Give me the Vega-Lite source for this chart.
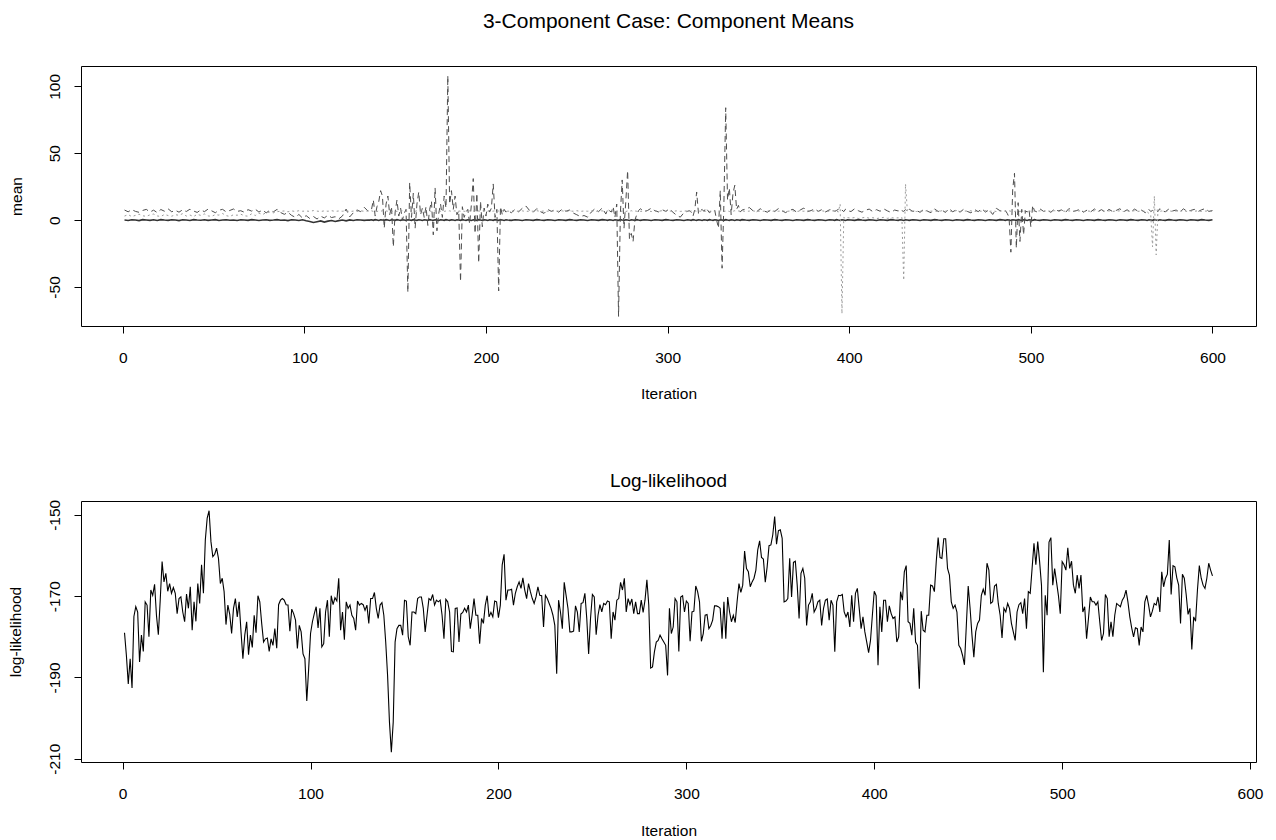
{
"$schema":"https://vega.github.io/schema/vega-lite/v6.json",
"background":"white",
"padding":{"left":7,"top":10,"right":10,"bottom":5},
"bounds":"flush",
"spacing":175,
"config":{"font":"Liberation Sans","view":{"stroke":"#000","strokeWidth":1},
"axis":{"domain":false,"grid":false,"tickColor":"#000","tickSize":7,"labelColor":"#000","labelFontSize":15.5,"titleColor":"#000","titleFontSize":15.5,"titleFontWeight":"normal","labelFlush":false,"labelOverlap":false},
"title":{"fontSize":19,"fontWeight":"normal","color":"#000","anchor":"middle"}},
"datasets":{
"top":[
{"i":1,"a":0,"b":7.5,"c":3},{"i":3,"a":-0.3,"b":6.2,"c":4.1},{"i":5,"a":0.2,"b":7.8,"c":2.6},{"i":7,"a":0,"b":6.5,"c":3.5},{"i":9,"a":-0.4,"b":5.8,"c":4.4},{"i":11,"a":0.3,"b":7.2,"c":3.2},{"i":13,"a":0.1,"b":8,"c":2.8},{"i":15,"a":-0.2,"b":6,"c":3.9},{"i":17,"a":0.2,"b":7.4,"c":4.5},{"i":19,"a":-0.3,"b":5.6,"c":3.1},
{"i":21,"a":0.3,"b":7.9,"c":2.7},{"i":23,"a":0,"b":6.6,"c":4.2},{"i":25,"a":-0.2,"b":8.4,"c":3.4},{"i":27,"a":0.2,"b":6.2,"c":2.9},{"i":29,"a":0,"b":7.3,"c":4},{"i":31,"a":-0.4,"b":5.9,"c":3.6},{"i":33,"a":0.2,"b":7.7,"c":4.8},{"i":35,"a":0.1,"b":6.4,"c":3},{"i":37,"a":-0.3,"b":8.1,"c":3.8},{"i":39,"a":0.3,"b":6.8,"c":2.6},
{"i":41,"a":0,"b":5.7,"c":4.3},{"i":43,"a":-0.1,"b":7.6,"c":3.5},{"i":45,"a":0.2,"b":6.3,"c":4.6},{"i":47,"a":-0.2,"b":8.2,"c":3.1},{"i":49,"a":0.1,"b":6.9,"c":2.8},{"i":51,"a":0.3,"b":5.5,"c":4.1},{"i":53,"a":-0.3,"b":7.4,"c":3.7},{"i":55,"a":0,"b":8,"c":4.9},{"i":57,"a":0.2,"b":6.1,"c":3.3},{"i":59,"a":-0.1,"b":7.2,"c":2.7},
{"i":61,"a":0.1,"b":8.3,"c":4},{"i":63,"a":-0.3,"b":6.5,"c":3.6},{"i":65,"a":0.2,"b":7,"c":4.4},{"i":67,"a":0,"b":5.8,"c":3.2},{"i":69,"a":-0.2,"b":7.8,"c":2.9},{"i":71,"a":0.3,"b":6.7,"c":4.7},{"i":73,"a":0,"b":8.1,"c":3.4},{"i":75,"a":-0.3,"b":6,"c":5.2},{"i":77,"a":0.1,"b":7.5,"c":4.1},{"i":79,"a":0.2,"b":5.4,"c":5.6},
{"i":81,"a":-0.2,"b":7.3,"c":6},{"i":83,"a":0,"b":6.2,"c":5.4},{"i":85,"a":0.3,"b":8,"c":6.3},{"i":87,"a":-0.1,"b":5.6,"c":6.6},{"i":89,"a":0.1,"b":4.3,"c":6.8},{"i":91,"a":-0.4,"b":5.8,"c":6.2},{"i":93,"a":0.2,"b":3.5,"c":6.9},{"i":95,"a":0,"b":2.1,"c":6.4},{"i":97,"a":-0.3,"b":4.2,"c":7},{"i":99,"a":0.2,"b":1.5,"c":6.6},
{"i":101,"a":-0.5,"b":3.3,"c":6.8},{"i":103,"a":-1,"b":1.2,"c":6.5},{"i":105,"a":-1.8,"b":2.7,"c":7.1},{"i":107,"a":-1.2,"b":0.8,"c":6.7},{"i":109,"a":-0.6,"b":2.9,"c":6.4},{"i":111,"a":-1.5,"b":1.6,"c":6.9},{"i":113,"a":-0.8,"b":3.6,"c":6.6},{"i":115,"a":-0.3,"b":1.9,"c":7},{"i":117,"a":-1.1,"b":2.5,"c":6.5},{"i":119,"a":-0.4,"b":0.9,"c":6.8},
{"i":121,"a":0,"b":3.1,"c":6.6},{"i":123,"a":-0.6,"b":8.2,"c":6.9},{"i":125,"a":0.1,"b":2.4,"c":6.4},{"i":127,"a":-0.3,"b":5.5,"c":6.7},{"i":129,"a":0.2,"b":7.6,"c":6.5},{"i":131,"a":0,"b":6.3,"c":6.9},{"i":133,"a":-0.2,"b":9.5,"c":6.6},{"i":135,"a":0.1,"b":6.8,"c":6.8},
{"i":136,"a":0,"b":7,"c":6.6},{"i":137,"a":0.2,"b":8,"c":6.9},{"i":138,"a":-0.2,"b":15,"c":6.5},{"i":139,"a":0.3,"b":3,"c":6.8},{"i":140,"a":0,"b":10,"c":6.4},{"i":141,"a":-0.3,"b":14,"c":6.9},{"i":142,"a":0.2,"b":22,"c":6.6},{"i":143,"a":0,"b":18,"c":7},{"i":144,"a":-0.2,"b":-6,"c":6.5},{"i":145,"a":0.3,"b":12,"c":6.8},
{"i":146,"a":0,"b":18,"c":6.6},{"i":147,"a":-0.3,"b":4,"c":6.9},{"i":148,"a":0.2,"b":10,"c":6.5},{"i":149,"a":0,"b":-20,"c":6.7},{"i":150,"a":-0.2,"b":6,"c":6.9},{"i":151,"a":0.3,"b":15,"c":6.4},{"i":152,"a":0,"b":3,"c":6.8},{"i":153,"a":-0.2,"b":9,"c":6.6},{"i":154,"a":0.2,"b":0,"c":7},{"i":155,"a":0,"b":5,"c":6.5},
{"i":156,"a":-0.3,"b":8,"c":6.8},{"i":157,"a":0.2,"b":-54,"c":6.6},{"i":158,"a":0,"b":28,"c":6.9},{"i":159,"a":-0.2,"b":2,"c":6.5},{"i":160,"a":0.3,"b":20,"c":6.8},{"i":161,"a":0,"b":-6,"c":6.6},{"i":162,"a":-0.2,"b":12,"c":6.9},{"i":163,"a":0.2,"b":21,"c":6.4},{"i":164,"a":0,"b":4,"c":6.7},{"i":165,"a":-0.3,"b":9,"c":7},
{"i":166,"a":0.2,"b":2,"c":6.5},{"i":167,"a":0,"b":10,"c":6.8},{"i":168,"a":-0.2,"b":-4,"c":6.6},{"i":169,"a":0.3,"b":8,"c":6.9},{"i":170,"a":0,"b":14,"c":6.5},{"i":171,"a":-0.2,"b":-11,"c":6.7},{"i":172,"a":0.2,"b":24,"c":6.9},{"i":173,"a":0,"b":-8,"c":6.4},{"i":174,"a":-0.3,"b":5,"c":6.8},{"i":175,"a":0.2,"b":12,"c":6.6},
{"i":176,"a":0,"b":2,"c":7},{"i":177,"a":-0.2,"b":18,"c":6.5},{"i":178,"a":0.3,"b":9,"c":6.8},{"i":179,"a":0,"b":108,"c":6.6},{"i":180,"a":-0.2,"b":12,"c":6.9},{"i":181,"a":0.2,"b":22,"c":6.5},{"i":182,"a":0,"b":8,"c":6.7},{"i":183,"a":-0.3,"b":18,"c":6.9},{"i":184,"a":0.2,"b":4,"c":6.4},{"i":185,"a":0,"b":7,"c":6.8},
{"i":186,"a":-0.2,"b":-46,"c":6.6},{"i":187,"a":0.3,"b":10,"c":7},{"i":188,"a":0,"b":2,"c":6.5},{"i":189,"a":-0.2,"b":6,"c":6.8},{"i":190,"a":0.2,"b":8,"c":6.6},{"i":191,"a":0,"b":-3,"c":6.9},{"i":192,"a":-0.3,"b":12,"c":6.5},{"i":193,"a":0.2,"b":31,"c":6.7},{"i":194,"a":0,"b":-10,"c":6.9},{"i":195,"a":-0.2,"b":20,"c":6.4},
{"i":196,"a":0.3,"b":-32,"c":6.8},{"i":197,"a":0,"b":14,"c":6.6},{"i":198,"a":-0.2,"b":-5,"c":7},{"i":199,"a":0.2,"b":9,"c":6.5},{"i":200,"a":0,"b":3,"c":6.8},{"i":201,"a":-0.3,"b":12,"c":6.6},{"i":202,"a":0.2,"b":6,"c":6.9},{"i":203,"a":0,"b":9,"c":6.5},{"i":204,"a":-0.2,"b":27,"c":6.7},{"i":205,"a":0.3,"b":2,"c":6.9},
{"i":206,"a":0,"b":8,"c":6.4},{"i":207,"a":-0.2,"b":-53,"c":6.8},{"i":208,"a":0.2,"b":10,"c":6.6},{"i":209,"a":0,"b":4,"c":7},{"i":210,"a":-0.3,"b":8,"c":6.5},{"i":211,"a":0.2,"b":6,"c":6.8},{"i":212,"a":0,"b":7,"c":6.6},
{"i":214,"a":-0.2,"b":5.5,"c":6.9},{"i":216,"a":0.2,"b":8,"c":6.5},{"i":218,"a":0,"b":6.2,"c":6.7},{"i":220,"a":-0.3,"b":8.8,"c":6.9},{"i":222,"a":0.2,"b":10.5,"c":6.4},{"i":224,"a":0,"b":7.2,"c":6.8},{"i":226,"a":-0.2,"b":5.8,"c":6.6},{"i":228,"a":0.3,"b":8.6,"c":7},{"i":230,"a":0,"b":6.3,"c":6.5},{"i":232,"a":-0.2,"b":5,"c":6.8},
{"i":234,"a":0.2,"b":8,"c":6.6},{"i":236,"a":0,"b":6.5,"c":6.9},{"i":238,"a":-0.3,"b":7.8,"c":6.5},{"i":240,"a":0.2,"b":5.9,"c":6.7},{"i":242,"a":0,"b":8.3,"c":6.9},{"i":244,"a":-0.2,"b":6.6,"c":6.4},{"i":246,"a":0.3,"b":7.5,"c":6.8},{"i":248,"a":0,"b":5.3,"c":6.6},{"i":250,"a":-0.2,"b":4,"c":7},{"i":252,"a":0.2,"b":2.6,"c":6.5},
{"i":254,"a":0,"b":3.4,"c":6.8},{"i":256,"a":-0.3,"b":2.2,"c":6.6},{"i":258,"a":0.2,"b":6,"c":6.9},{"i":260,"a":0,"b":8.5,"c":6.5},{"i":262,"a":-0.2,"b":6.3,"c":6.7},{"i":264,"a":0.3,"b":9,"c":6.9},{"i":266,"a":0,"b":4.5,"c":6.4},
{"i":267,"a":-0.2,"b":8,"c":6.8},{"i":268,"a":0.2,"b":7,"c":6.6},{"i":269,"a":0,"b":6,"c":7},{"i":270,"a":-0.3,"b":10,"c":6.5},{"i":271,"a":0.2,"b":2,"c":6.8},{"i":272,"a":0,"b":12,"c":6.6},{"i":273,"a":-0.2,"b":-72,"c":6.9},{"i":274,"a":0.3,"b":5,"c":6.5},{"i":275,"a":0,"b":30,"c":6.7},{"i":276,"a":-0.2,"b":-6,"c":6.9},
{"i":277,"a":0.2,"b":14,"c":6.4},{"i":278,"a":0,"b":37,"c":6.8},{"i":279,"a":-0.3,"b":-14,"c":6.6},{"i":280,"a":0.2,"b":-10,"c":7},{"i":281,"a":0,"b":-16,"c":6.5},{"i":282,"a":-0.2,"b":0,"c":6.8},{"i":283,"a":0.3,"b":4,"c":6.6},{"i":284,"a":0,"b":7,"c":6.9},{"i":285,"a":-0.2,"b":8.5,"c":6.5},
{"i":287,"a":0.2,"b":6.4,"c":6.7},{"i":289,"a":0,"b":7.2,"c":6.9},{"i":291,"a":-0.3,"b":8.9,"c":6.4},{"i":293,"a":0.2,"b":7,"c":6.8},{"i":295,"a":0,"b":6.1,"c":6.6},{"i":297,"a":-0.2,"b":7.8,"c":7},{"i":299,"a":0.3,"b":6.5,"c":6.5},{"i":301,"a":0,"b":8.4,"c":6.8},{"i":303,"a":-0.2,"b":5.8,"c":6.6},{"i":305,"a":0.2,"b":3.5,"c":6.9},
{"i":307,"a":0,"b":2.2,"c":6.5},{"i":309,"a":-0.3,"b":5.5,"c":6.7},
{"i":311,"a":0.2,"b":6.6,"c":6.9},{"i":312,"a":0,"b":7,"c":6.4},{"i":313,"a":-0.2,"b":6,"c":6.8},{"i":314,"a":0.3,"b":3,"c":6.6},{"i":315,"a":0,"b":8,"c":7},{"i":316,"a":-0.2,"b":21,"c":6.5},{"i":317,"a":0.2,"b":5,"c":6.8},{"i":318,"a":0,"b":7,"c":6.6},{"i":319,"a":-0.3,"b":8,"c":6.9},{"i":320,"a":0.2,"b":6.5,"c":6.5},
{"i":321,"a":0,"b":9,"c":6.7},{"i":322,"a":-0.2,"b":7.5,"c":6.9},{"i":323,"a":0.3,"b":5.5,"c":6.4},{"i":324,"a":0,"b":6.5,"c":6.8},{"i":325,"a":-0.2,"b":8,"c":6.6},{"i":326,"a":0.2,"b":7,"c":7},{"i":327,"a":0,"b":0,"c":6.5},{"i":328,"a":-0.3,"b":-6,"c":6.8},{"i":329,"a":0.2,"b":22,"c":6.6},{"i":330,"a":0,"b":-36,"c":6.9},
{"i":331,"a":-0.2,"b":12,"c":6.5},{"i":332,"a":0.3,"b":84,"c":6.7},{"i":333,"a":0,"b":15,"c":6.9},{"i":334,"a":-0.2,"b":24,"c":6.4},{"i":335,"a":0.2,"b":4,"c":6.8},{"i":336,"a":0,"b":20,"c":6.6},{"i":337,"a":-0.3,"b":26,"c":7},{"i":338,"a":0.2,"b":8,"c":6.5},{"i":339,"a":0,"b":11,"c":6.8},{"i":340,"a":-0.2,"b":6,"c":6.6},
{"i":341,"a":0.3,"b":7.5,"c":6.9},{"i":343,"a":0,"b":8.2,"c":6.5},{"i":345,"a":-0.2,"b":9.4,"c":6.7},{"i":347,"a":0.2,"b":7,"c":6.9},{"i":349,"a":0,"b":6.2,"c":6.4},{"i":351,"a":-0.3,"b":8.5,"c":6.8},{"i":353,"a":0.2,"b":6.8,"c":6.6},{"i":355,"a":0,"b":5.9,"c":7},{"i":357,"a":-0.2,"b":7.7,"c":6.5},{"i":359,"a":0.3,"b":6.4,"c":6.8},
{"i":361,"a":0,"b":8.6,"c":6.6},{"i":363,"a":-0.2,"b":6.9,"c":6.9},{"i":365,"a":0.2,"b":5.6,"c":6.5},{"i":367,"a":0,"b":7.3,"c":6.7},{"i":369,"a":-0.3,"b":8,"c":6.9},{"i":371,"a":0.2,"b":6,"c":6.4},{"i":373,"a":0,"b":7.5,"c":6.8},{"i":375,"a":-0.2,"b":9,"c":6.6},{"i":377,"a":0.3,"b":6.3,"c":7},{"i":379,"a":0,"b":7.1,"c":6.5},
{"i":381,"a":-0.2,"b":8.4,"c":6.8},{"i":383,"a":0.2,"b":6.5,"c":6.6},{"i":385,"a":0,"b":7.9,"c":6.9},{"i":387,"a":-0.3,"b":6.1,"c":6.5},{"i":389,"a":0.2,"b":7.6,"c":6.7},{"i":391,"a":0,"b":8.2,"c":6.9},
{"i":392,"a":-0.2,"b":6.5,"c":6.4},{"i":393,"a":0.3,"b":7.2,"c":6.8},{"i":394,"a":0,"b":8,"c":6},{"i":395,"a":-0.2,"b":6.8,"c":12},{"i":396,"a":0.2,"b":7.5,"c":-70},{"i":397,"a":0,"b":6.3,"c":2},{"i":398,"a":-0.3,"b":8.2,"c":1.2},{"i":399,"a":0.2,"b":7,"c":1.8},
{"i":401,"a":0,"b":6.4,"c":1.5},{"i":403,"a":-0.2,"b":8.5,"c":1.9},{"i":405,"a":0.3,"b":7,"c":1.2},{"i":407,"a":0,"b":5.9,"c":1.7},{"i":409,"a":-0.2,"b":7.4,"c":2.1},{"i":411,"a":0.2,"b":8.2,"c":1.4},{"i":413,"a":0,"b":6.3,"c":1.8},{"i":415,"a":-0.3,"b":7.8,"c":1.1},{"i":417,"a":0.2,"b":6.6,"c":1.6},{"i":419,"a":0,"b":8.4,"c":2},
{"i":421,"a":-0.2,"b":6.9,"c":1.3},{"i":423,"a":0.3,"b":5.7,"c":1.8},{"i":425,"a":0,"b":7.5,"c":1.5},{"i":427,"a":-0.2,"b":6.8,"c":1.7},{"i":428,"a":0.2,"b":8,"c":1.4},{"i":429,"a":0,"b":7,"c":2},{"i":430,"a":-0.3,"b":6.5,"c":-45},{"i":431,"a":0.2,"b":7.8,"c":27},{"i":432,"a":0,"b":6.4,"c":7},{"i":433,"a":-0.2,"b":8.2,"c":6.5},
{"i":435,"a":0.2,"b":6.5,"c":6.8},{"i":437,"a":0,"b":7.2,"c":6.4},{"i":439,"a":-0.3,"b":5.8,"c":6.9},{"i":441,"a":0.2,"b":8,"c":6.5},{"i":443,"a":0,"b":6.7,"c":7.2},{"i":445,"a":-0.2,"b":5.5,"c":6.6},{"i":447,"a":0.3,"b":8.3,"c":6.9},{"i":449,"a":0,"b":6.4,"c":6.3},{"i":451,"a":-0.2,"b":7.5,"c":7},{"i":453,"a":0.2,"b":5.7,"c":6.6},
{"i":455,"a":0,"b":8.6,"c":6.8},{"i":457,"a":-0.3,"b":6.2,"c":6.4},{"i":459,"a":0.2,"b":7.7,"c":7.1},{"i":461,"a":0,"b":5.9,"c":6.5},{"i":463,"a":-0.2,"b":8.1,"c":6.9},{"i":465,"a":0.3,"b":6.5,"c":6.6},{"i":467,"a":0,"b":5.4,"c":7},{"i":469,"a":-0.2,"b":7.9,"c":6.4},{"i":471,"a":0.2,"b":6.3,"c":6.8},{"i":473,"a":0,"b":8.5,"c":6.6},
{"i":475,"a":-0.3,"b":6,"c":7.1},{"i":477,"a":0.2,"b":7.6,"c":6.5},{"i":479,"a":0,"b":4.2,"c":6.8},{"i":481,"a":-0.2,"b":8.8,"c":6.4},{"i":483,"a":0.3,"b":7,"c":6.9},
{"i":485,"a":0,"b":6.5,"c":6.6},{"i":486,"a":-0.2,"b":7,"c":6.8},{"i":487,"a":0.2,"b":5,"c":6.5},{"i":488,"a":0,"b":2,"c":6.9},{"i":489,"a":-0.3,"b":-24,"c":6.6},{"i":490,"a":0.2,"b":23,"c":6.8},{"i":491,"a":0,"b":35,"c":6.5},{"i":492,"a":-0.2,"b":-21,"c":6.7},{"i":493,"a":0.3,"b":13,"c":6.9},{"i":494,"a":0,"b":-16,"c":6.4},
{"i":495,"a":-0.2,"b":8,"c":6.8},{"i":496,"a":0.2,"b":-11,"c":6.6},{"i":497,"a":0,"b":7,"c":7},{"i":498,"a":-0.3,"b":6,"c":6.5},{"i":499,"a":0.2,"b":8,"c":6.8},{"i":500,"a":0,"b":-5,"c":6.6},{"i":501,"a":-0.2,"b":11,"c":6.9},{"i":502,"a":0.3,"b":7,"c":6.5},{"i":503,"a":0,"b":6.2,"c":6.7},
{"i":505,"a":-0.2,"b":8.4,"c":6.9},{"i":507,"a":0.2,"b":6.5,"c":6.4},{"i":509,"a":0,"b":7.3,"c":6.8},{"i":511,"a":-0.3,"b":5.8,"c":6.6},{"i":513,"a":0.2,"b":8.2,"c":7},{"i":515,"a":0,"b":6.9,"c":6.5},{"i":517,"a":-0.2,"b":7.6,"c":6.8},{"i":519,"a":0.3,"b":5.6,"c":6.6},{"i":521,"a":0,"b":8.7,"c":6.9},{"i":523,"a":-0.2,"b":6.4,"c":6.5},
{"i":525,"a":0.2,"b":7,"c":6.7},{"i":527,"a":0,"b":8.1,"c":6.9},{"i":529,"a":-0.3,"b":5.9,"c":6.4},{"i":531,"a":0.2,"b":7.5,"c":6.8},{"i":533,"a":0,"b":6.2,"c":6.6},{"i":535,"a":-0.2,"b":8.3,"c":7},{"i":537,"a":0.3,"b":6.6,"c":6.5},{"i":539,"a":0,"b":7.8,"c":6.8},{"i":541,"a":-0.2,"b":5.7,"c":6.6},{"i":543,"a":0.2,"b":8,"c":6.9},
{"i":545,"a":0,"b":6.4,"c":6.5},{"i":547,"a":-0.3,"b":7.2,"c":6.7},{"i":549,"a":0.2,"b":8.5,"c":6.9},{"i":551,"a":0,"b":6.1,"c":6.4},{"i":553,"a":-0.2,"b":7.7,"c":6.8},{"i":555,"a":0.3,"b":5.8,"c":6.6},{"i":557,"a":0,"b":8.2,"c":7},{"i":559,"a":-0.2,"b":6.7,"c":6.5},{"i":561,"a":0.2,"b":7.4,"c":6.8},{"i":563,"a":0,"b":5.5,"c":6.6},
{"i":564,"a":-0.3,"b":7.5,"c":6.2},{"i":565,"a":0.2,"b":8,"c":5},{"i":566,"a":0,"b":6.4,"c":4},{"i":567,"a":-0.2,"b":7.2,"c":-20},{"i":568,"a":0.3,"b":6.8,"c":18},{"i":569,"a":0,"b":7.6,"c":-26},{"i":570,"a":-0.2,"b":6.3,"c":8},{"i":571,"a":0.2,"b":8.5,"c":6.5},{"i":572,"a":0,"b":7,"c":6.8},
{"i":574,"a":-0.2,"b":6.2,"c":6.4},{"i":576,"a":0.3,"b":8.3,"c":6.9},{"i":578,"a":0,"b":6.8,"c":6.5},{"i":580,"a":-0.2,"b":7.5,"c":6.8},{"i":582,"a":0.2,"b":5.9,"c":6.6},{"i":584,"a":0,"b":8.4,"c":7},{"i":586,"a":-0.3,"b":6.6,"c":6.5},{"i":588,"a":0.2,"b":7.2,"c":6.8},{"i":590,"a":0,"b":8,"c":6.6},{"i":592,"a":-0.2,"b":6.3,"c":6.9},
{"i":594,"a":0.3,"b":7.7,"c":6.5},{"i":596,"a":0,"b":8.6,"c":6.7},{"i":598,"a":-0.2,"b":6.5,"c":6.9},{"i":600,"a":0.2,"b":7.1,"c":6.5}
],
"ll":[
{"i":1,"y":-179},{"i":2,"y":-184.6},{"i":3,"y":-191.6},{"i":4,"y":-185.4},{"i":5,"y":-192.6},{"i":6,"y":-175},{"i":7,"y":-172.6},{"i":8,"y":-173.9},{"i":9,"y":-186.2},{"i":10,"y":-179.6},
{"i":11,"y":-183.6},{"i":12,"y":-171.4},{"i":13,"y":-172.2},{"i":14,"y":-180},{"i":15,"y":-168.5},{"i":16,"y":-169.8},{"i":17,"y":-167.1},{"i":18,"y":-174.7},{"i":19,"y":-179.5},{"i":20,"y":-171},
{"i":21,"y":-161.5},{"i":22,"y":-166.5},{"i":23,"y":-164.4},{"i":24,"y":-168.8},{"i":25,"y":-166.9},{"i":26,"y":-169.3},{"i":27,"y":-167.9},{"i":28,"y":-169.3},{"i":29,"y":-174.3},{"i":30,"y":-170.6},
{"i":31,"y":-170.2},{"i":32,"y":-173.9},{"i":33,"y":-176.3},{"i":34,"y":-169.5},{"i":35,"y":-173},{"i":36,"y":-167.7},{"i":37,"y":-178.4},{"i":38,"y":-171.4},{"i":39,"y":-176.2},{"i":40,"y":-166.9},
{"i":41,"y":-171.8},{"i":42,"y":-162.3},{"i":43,"y":-169.3},{"i":44,"y":-156.2},{"i":45,"y":-150.8},{"i":46,"y":-149},{"i":47,"y":-156.6},{"i":48,"y":-160.3},{"i":49,"y":-159.7},{"i":50,"y":-158.2},
{"i":51,"y":-160.7},{"i":52,"y":-166.9},{"i":53,"y":-165.6},{"i":54,"y":-168.9},{"i":55,"y":-177},{"i":56,"y":-172.2},{"i":57,"y":-174.5},{"i":58,"y":-179.2},{"i":59,"y":-173},{"i":60,"y":-170.6},
{"i":61,"y":-175.1},{"i":62,"y":-171.4},{"i":63,"y":-178.8},{"i":64,"y":-185.4},{"i":65,"y":-179.6},{"i":66,"y":-176.3},{"i":67,"y":-184.4},{"i":68,"y":-179.6},{"i":69,"y":-182.6},{"i":70,"y":-174.7},
{"i":71,"y":-179},{"i":72,"y":-169.9},{"i":73,"y":-171.4},{"i":74,"y":-176.7},{"i":75,"y":-181.3},{"i":76,"y":-180.5},{"i":77,"y":-180.3},{"i":78,"y":-183.6},{"i":79,"y":-180.5},{"i":80,"y":-182.1},
{"i":81,"y":-178},{"i":82,"y":-182.8},{"i":83,"y":-172.1},{"i":84,"y":-171},{"i":85,"y":-170.6},{"i":86,"y":-171},{"i":87,"y":-172.1},{"i":88,"y":-172.2},{"i":89,"y":-178.6},{"i":90,"y":-173.2},
{"i":91,"y":-174.3},{"i":92,"y":-175.9},{"i":93,"y":-182.9},{"i":94,"y":-177.2},{"i":95,"y":-178.8},{"i":96,"y":-184.2},{"i":97,"y":-185.4},{"i":98,"y":-195.8},{"i":99,"y":-187.9},{"i":100,"y":-179.2},
{"i":101,"y":-176.3},{"i":102,"y":-174.3},{"i":103,"y":-172.6},{"i":104,"y":-177.8},{"i":105,"y":-173},{"i":106,"y":-182.5},{"i":107,"y":-181.7},{"i":108,"y":-173.9},{"i":109,"y":-171},{"i":110,"y":-180},
{"i":111,"y":-169.9},{"i":112,"y":-172.1},{"i":113,"y":-170.4},{"i":114,"y":-171.2},{"i":115,"y":-165.6},{"i":116,"y":-178.4},{"i":117,"y":-173.9},{"i":118,"y":-180.7},{"i":119,"y":-171.4},{"i":120,"y":-173},
{"i":121,"y":-172.2},{"i":122,"y":-174.7},{"i":123,"y":-175.5},{"i":124,"y":-178.4},{"i":125,"y":-171.2},{"i":126,"y":-172.2},{"i":127,"y":-171.8},{"i":128,"y":-172.1},{"i":129,"y":-173.5},{"i":130,"y":-172.2},
{"i":131,"y":-176.7},{"i":132,"y":-170.6},{"i":133,"y":-170.6},{"i":134,"y":-169.1},{"i":135,"y":-173},{"i":136,"y":-175.5},{"i":137,"y":-172.2},{"i":138,"y":-171.6},{"i":139,"y":-174.7},{"i":140,"y":-181.3},
{"i":141,"y":-189.5},{"i":142,"y":-201},{"i":143,"y":-208.4},{"i":144,"y":-201},{"i":145,"y":-181.3},{"i":146,"y":-178},{"i":147,"y":-177.2},{"i":148,"y":-177.2},{"i":149,"y":-179.6},{"i":150,"y":-171},
{"i":151,"y":-171.2},{"i":152,"y":-180},{"i":153,"y":-182.1},{"i":154,"y":-173.9},{"i":155,"y":-173.9},{"i":156,"y":-174.3},{"i":157,"y":-170.6},{"i":158,"y":-170.2},
{"i":159,"y":-170.2},{"i":160,"y":-173},{"i":161,"y":-178.8},{"i":162,"y":-174.7},{"i":163,"y":-170.6},{"i":164,"y":-171},{"i":165,"y":-169.6},{"i":166,"y":-172.2},{"i":167,"y":-171},{"i":168,"y":-171.4},
{"i":169,"y":-171},{"i":170,"y":-174.7},{"i":171,"y":-180.5},{"i":172,"y":-170.8},{"i":173,"y":-171.4},{"i":174,"y":-173.9},{"i":175,"y":-183.6},{"i":176,"y":-183.7},{"i":177,"y":-173},{"i":178,"y":-172.9},
{"i":179,"y":-181.3},{"i":180,"y":-174.4},{"i":181,"y":-174},{"i":182,"y":-173},{"i":183,"y":-173.9},{"i":184,"y":-172.2},{"i":185,"y":-178},{"i":186,"y":-174.7},{"i":187,"y":-170.6},{"i":188,"y":-174.7},
{"i":189,"y":-174.7},{"i":190,"y":-181.7},{"i":191,"y":-175.5},{"i":192,"y":-176.7},{"i":193,"y":-172.2},{"i":194,"y":-169.9},{"i":195,"y":-175.1},{"i":196,"y":-174},{"i":197,"y":-175.1},{"i":198,"y":-171.2},
{"i":199,"y":-171.4},{"i":200,"y":-175.3},{"i":201,"y":-172.2},{"i":202,"y":-162.3},{"i":203,"y":-159.7},{"i":204,"y":-171},{"i":205,"y":-168.5},{"i":206,"y":-168.5},{"i":207,"y":-168.3},{"i":208,"y":-172.2},
{"i":209,"y":-169.3},{"i":210,"y":-167.7},{"i":211,"y":-166.5},{"i":212,"y":-168.1},{"i":213,"y":-165.5},{"i":214,"y":-168.5},{"i":215,"y":-170.6},{"i":216,"y":-166.9},{"i":217,"y":-168.9},{"i":218,"y":-170.6},
{"i":219,"y":-171.8},{"i":220,"y":-170.2},{"i":221,"y":-167.7},{"i":222,"y":-169.8},{"i":223,"y":-169.9},{"i":224,"y":-177.6},{"i":225,"y":-169.8},{"i":226,"y":-170.6},{"i":227,"y":-171.8},{"i":228,"y":-173},
{"i":229,"y":-174.7},{"i":230,"y":-177.2},{"i":231,"y":-189.1},{"i":232,"y":-171},{"i":233,"y":-173.9},{"i":234,"y":-178},{"i":235,"y":-166.6},{"i":236,"y":-169.8},{"i":237,"y":-173},{"i":238,"y":-178.8},
{"i":239,"y":-178.8},{"i":240,"y":-178.6},{"i":241,"y":-172.4},{"i":242,"y":-173.9},{"i":243,"y":-178.8},{"i":244,"y":-171.8},{"i":245,"y":-171.6},{"i":246,"y":-169.3},{"i":247,"y":-175.5},{"i":248,"y":-184.2},
{"i":249,"y":-175.5},{"i":250,"y":-169.6},{"i":251,"y":-170.2},{"i":252,"y":-179.5},{"i":253,"y":-174.7},{"i":254,"y":-172.1},{"i":255,"y":-173.9},{"i":256,"y":-171.8},{"i":257,"y":-172.1},{"i":258,"y":-171.2},
{"i":259,"y":-171.4},{"i":260,"y":-180.5},{"i":261,"y":-173.9},{"i":262,"y":-175.9},{"i":263,"y":-171},{"i":264,"y":-170.6},{"i":265,"y":-166.6},{"i":266,"y":-168.5},{"i":267,"y":-165.6},{"i":268,"y":-173.9},
{"i":269,"y":-170.6},{"i":270,"y":-172.1},{"i":271,"y":-170.7},{"i":272,"y":-174.3},{"i":273,"y":-171.4},{"i":274,"y":-174.3},{"i":275,"y":-174.3},{"i":276,"y":-171},{"i":277,"y":-174},{"i":278,"y":-171},
{"i":279,"y":-166},{"i":280,"y":-172.2},{"i":281,"y":-187.7},{"i":282,"y":-187.4},{"i":283,"y":-183.7},{"i":284,"y":-181.3},{"i":285,"y":-180.9},{"i":286,"y":-179.6},{"i":287,"y":-180.5},{"i":288,"y":-181.3},
{"i":289,"y":-182.1},{"i":290,"y":-189.5},{"i":291,"y":-173},{"i":292,"y":-179.2},{"i":293,"y":-177.6},{"i":294,"y":-170.6},{"i":295,"y":-171.4},{"i":296,"y":-183.6},{"i":297,"y":-170.2},{"i":298,"y":-169.9},
{"i":299,"y":-173.9},{"i":300,"y":-171.2},{"i":301,"y":-171.8},{"i":302,"y":-181.1},{"i":303,"y":-173.9},{"i":304,"y":-173.7},{"i":305,"y":-167.5},{"i":306,"y":-168.9},{"i":307,"y":-171.4},{"i":308,"y":-181.1},
{"i":309,"y":-179.2},{"i":310,"y":-174.7},{"i":311,"y":-174.5},{"i":312,"y":-178},{"i":313,"y":-177.2},{"i":314,"y":-175.9},{"i":315,"y":-172.4},{"i":316,"y":-172.4},{"i":317,"y":-172.6},{"i":318,"y":-173},
{"i":319,"y":-180.5},{"i":320,"y":-171.4},{"i":321,"y":-180.5},{"i":322,"y":-170.2},{"i":323,"y":-173.9},{"i":324,"y":-176.3},{"i":325,"y":-174.7},{"i":326,"y":-176.5},{"i":327,"y":-171.4},{"i":328,"y":-166.9},
{"i":329,"y":-169.1},{"i":330,"y":-167.3},{"i":331,"y":-158.9},{"i":332,"y":-163.2},{"i":333,"y":-164},{"i":334,"y":-167.7},{"i":335,"y":-166.5},{"i":336,"y":-165.6},{"i":337,"y":-163.6},{"i":338,"y":-158.6},
{"i":339,"y":-156.4},{"i":340,"y":-160.5},{"i":341,"y":-160.9},{"i":342,"y":-166.6},{"i":343,"y":-162.8},{"i":344,"y":-157.6},{"i":345,"y":-157.4},{"i":346,"y":-154.9},{"i":347,"y":-150.4},{"i":348,"y":-157.2},
{"i":349,"y":-153.9},{"i":350,"y":-153.7},{"i":351,"y":-155.8},{"i":352,"y":-171.4},{"i":353,"y":-171.2},{"i":354,"y":-170.6},{"i":355,"y":-160.7},{"i":356,"y":-170.2},{"i":357,"y":-161.7},{"i":358,"y":-161.4},
{"i":359,"y":-167.3},{"i":360,"y":-175.5},{"i":361,"y":-164.4},{"i":362,"y":-163.2},{"i":363,"y":-165.6},{"i":364,"y":-177.2},{"i":365,"y":-172.2},{"i":366,"y":-171.4},{"i":367,"y":-169.3},{"i":368,"y":-173.9},
{"i":369,"y":-173},{"i":370,"y":-171.4},{"i":371,"y":-171},{"i":372,"y":-177.2},
{"i":373,"y":-173},{"i":374,"y":-171},{"i":375,"y":-170.7},{"i":376,"y":-175.9},{"i":377,"y":-171},{"i":378,"y":-172.2},{"i":379,"y":-183.7},{"i":380,"y":-171.4},{"i":381,"y":-169.8},{"i":382,"y":-169.9},
{"i":383,"y":-169.6},{"i":384,"y":-173.9},{"i":385,"y":-175.1},{"i":386,"y":-173.9},{"i":387,"y":-177.6},{"i":388,"y":-169.8},{"i":389,"y":-176.3},{"i":390,"y":-169.3},{"i":391,"y":-168.1},{"i":392,"y":-173},
{"i":393,"y":-178},{"i":394,"y":-175.1},{"i":395,"y":-178.8},{"i":396,"y":-181.3},{"i":397,"y":-183.9},{"i":398,"y":-180.9},{"i":399,"y":-174.7},{"i":400,"y":-168.8},{"i":401,"y":-169.9},{"i":402,"y":-187},
{"i":403,"y":-172.6},{"i":404,"y":-178.8},{"i":405,"y":-171},{"i":406,"y":-171},{"i":407,"y":-176.3},{"i":408,"y":-172.4},{"i":409,"y":-174.3},{"i":410,"y":-175.5},{"i":411,"y":-175.1},{"i":412,"y":-181.3},
{"i":413,"y":-180},{"i":414,"y":-168.9},{"i":415,"y":-171},{"i":416,"y":-164},{"i":417,"y":-162.5},{"i":418,"y":-176.3},{"i":419,"y":-176.7},{"i":420,"y":-179.6},{"i":421,"y":-173},{"i":422,"y":-181.3},
{"i":423,"y":-182.1},{"i":424,"y":-192.8},{"i":425,"y":-173.7},{"i":426,"y":-178.4},{"i":427,"y":-178.8},{"i":428,"y":-174.7},{"i":429,"y":-174.7},{"i":430,"y":-167.3},{"i":431,"y":-167.5},{"i":432,"y":-168.9},
{"i":433,"y":-161.5},{"i":434,"y":-155.6},{"i":435,"y":-160.5},{"i":436,"y":-160.7},{"i":437,"y":-155.9},{"i":438,"y":-155.9},{"i":439,"y":-163.2},{"i":440,"y":-164.8},{"i":441,"y":-171.4},{"i":442,"y":-173},
{"i":443,"y":-172.2},{"i":444,"y":-173.9},{"i":445,"y":-182.1},{"i":446,"y":-182.9},{"i":447,"y":-184.6},{"i":448,"y":-186.9},{"i":449,"y":-177.2},{"i":450,"y":-167.5},{"i":451,"y":-173},{"i":452,"y":-179.6},
{"i":453,"y":-185},{"i":454,"y":-178.8},{"i":455,"y":-176.7},{"i":456,"y":-175.9},{"i":457,"y":-169.8},{"i":458,"y":-168.3},{"i":459,"y":-169.8},{"i":460,"y":-161.9},{"i":461,"y":-163.6},{"i":462,"y":-171.8},
{"i":463,"y":-171.4},{"i":464,"y":-167.5},{"i":465,"y":-167.1},{"i":466,"y":-171.8},{"i":467,"y":-174.7},{"i":468,"y":-180.3},{"i":469,"y":-173},{"i":470,"y":-173.9},{"i":471,"y":-171.8},{"i":472,"y":-173},
{"i":473,"y":-176.7},{"i":474,"y":-178.8},{"i":475,"y":-180.9},{"i":476,"y":-173.9},{"i":477,"y":-172.1},{"i":478,"y":-171.6},{"i":479,"y":-174.3},{"i":480,"y":-170.6},{"i":481,"y":-178},{"i":482,"y":-168.9},
{"i":483,"y":-169.3},{"i":484,"y":-163.2},{"i":485,"y":-157},{"i":486,"y":-162.3},{"i":487,"y":-156.6},{"i":488,"y":-161.5},{"i":489,"y":-167.3},{"i":490,"y":-188.7},{"i":491,"y":-169.8},{"i":492,"y":-174.7},
{"i":493,"y":-156.7},{"i":494,"y":-155.6},{"i":495,"y":-167.3},{"i":496,"y":-163.2},{"i":497,"y":-166.5},{"i":498,"y":-169.8},{"i":499,"y":-174.3},{"i":500,"y":-161.5},{"i":501,"y":-162.3},{"i":502,"y":-163.6},
{"i":503,"y":-158.1},{"i":504,"y":-163.2},{"i":505,"y":-161.4},{"i":506,"y":-167.3},{"i":507,"y":-169.3},{"i":508,"y":-164.8},{"i":509,"y":-168.1},{"i":510,"y":-164.8},{"i":511,"y":-173.9},{"i":512,"y":-172.6},
{"i":513,"y":-180.5},{"i":514,"y":-175.5},{"i":515,"y":-170.2},{"i":516,"y":-171.4},{"i":517,"y":-171.4},{"i":518,"y":-172.2},{"i":519,"y":-171.4},{"i":520,"y":-176.3},{"i":521,"y":-180.9},{"i":522,"y":-179.2},
{"i":523,"y":-169.6},{"i":524,"y":-170.6},{"i":525,"y":-180},{"i":526,"y":-176.3},{"i":527,"y":-180},{"i":528,"y":-174.7},{"i":529,"y":-171.8},{"i":530,"y":-172.2},{"i":531,"y":-172.6},{"i":532,"y":-171},
{"i":533,"y":-170.2},{"i":534,"y":-168.5},{"i":535,"y":-171.4},{"i":536,"y":-175.1},{"i":537,"y":-177.8},{"i":538,"y":-180},{"i":539,"y":-177.8},{"i":540,"y":-178},{"i":541,"y":-182.1},{"i":542,"y":-177.6},
{"i":543,"y":-178.8},{"i":544,"y":-171.4},{"i":545,"y":-169.8},{"i":546,"y":-172.2},{"i":547,"y":-175.1},{"i":548,"y":-173.7},{"i":549,"y":-171.8},{"i":550,"y":-172.2},{"i":551,"y":-170.2},{"i":552,"y":-173.9},
{"i":553,"y":-164},{"i":554,"y":-167.7},{"i":555,"y":-165.6},{"i":556,"y":-164.6},{"i":557,"y":-156.2},{"i":558,"y":-169.6},{"i":559,"y":-162.5},{"i":560,"y":-162.8},{"i":561,"y":-165.5},{"i":562,"y":-167.3},
{"i":563,"y":-176.7},{"i":564,"y":-164.6},{"i":565,"y":-165.6},{"i":566,"y":-169.6},{"i":567,"y":-174.5},{"i":568,"y":-173},{"i":569,"y":-183.1},{"i":570,"y":-175.1},{"i":571,"y":-176.2},{"i":572,"y":-168.5},
{"i":573,"y":-162.5},{"i":574,"y":-165.6},{"i":575,"y":-167.3},{"i":576,"y":-168.1},{"i":577,"y":-165.6},{"i":578,"y":-161.9},{"i":579,"y":-163.6},{"i":580,"y":-165}
]},
"vconcat":[
{"width":1175,"height":260,
"title":{"text":"3-Component Case: Component Means","offset":23,"baseline":"middle","fontSize":21},
"data":{"name":"top"},
"encoding":{"x":{"field":"i","type":"quantitative","scale":{"domain":[-22.96,623.96],"nice":false,"zero":false},
"axis":{"values":[0,100,200,300,400,500,600],"labelBaseline":"alphabetic","labelPadding":29,"title":"Iteration","titleY":67,"titleBaseline":"middle","titleAlign":"center"}}},
"layer":[
{"mark":{"type":"line","color":"#333333","strokeWidth":1.6},
"encoding":{"y":{"field":"a","type":"quantitative","scale":{"domain":[-79.2,115.2],"nice":false,"zero":false},
"axis":{"values":[-50,0,50,100],"labelExpr":"datum.value < 0 ? '-' + abs(datum.value) : '' + datum.value","labelAngle":270,"labelAlign":"center","labelBaseline":"alphabetic","labelPadding":15,"title":"mean","titleX":-65,"titleY":130,"titleAngle":270,"titleAlign":"center","titleBaseline":"middle"}}}},
{"mark":{"type":"line","color":"#4d4d4d","strokeWidth":1,"strokeDash":[6,4]},
"encoding":{"y":{"field":"b","type":"quantitative","scale":{"domain":[-79.2,115.2],"nice":false,"zero":false},
"axis":{"values":[-50,0,50,100],"labelExpr":"datum.value < 0 ? '-' + abs(datum.value) : '' + datum.value","labelAngle":270,"labelAlign":"center","labelBaseline":"alphabetic","labelPadding":15,"title":"mean","titleX":-65,"titleY":130,"titleAngle":270,"titleAlign":"center","titleBaseline":"middle"}}}},
{"mark":{"type":"line","color":"#9a9a9a","strokeWidth":1,"strokeDash":[2,3]},
"encoding":{"y":{"field":"c","type":"quantitative","scale":{"domain":[-79.2,115.2],"nice":false,"zero":false},
"axis":{"values":[-50,0,50,100],"labelExpr":"datum.value < 0 ? '-' + abs(datum.value) : '' + datum.value","labelAngle":270,"labelAlign":"center","labelBaseline":"alphabetic","labelPadding":15,"title":"mean","titleX":-65,"titleY":130,"titleAngle":270,"titleAlign":"center","titleBaseline":"middle"}}}}
]},
{"width":1175,"height":261,
"title":{"text":"Log-likelihood","offset":-1,"baseline":"middle"},
"data":{"name":"ll"},
"mark":{"type":"line","color":"#000000","strokeWidth":1.1},
"encoding":{"x":{"field":"i","type":"quantitative","scale":{"domain":[-22.16,603.16],"nice":false,"zero":false},
"axis":{"values":[0,100,200,300,400,500,600],"labelBaseline":"alphabetic","labelPadding":29,"title":"Iteration","titleY":68,"titleBaseline":"middle","titleAlign":"center"}},
"y":{"field":"y","type":"quantitative","scale":{"domain":[-210.8,-146.6],"nice":false,"zero":false},
"axis":{"values":[-210,-190,-170,-150],"labelExpr":"datum.value < 0 ? '-' + abs(datum.value) : '' + datum.value","labelAngle":270,"labelAlign":"center","labelBaseline":"alphabetic","labelPadding":15,"title":"log-likelihood","titleX":-66,"titleY":130.5,"titleAngle":270,"titleAlign":"center","titleBaseline":"middle"}}}}
]}
